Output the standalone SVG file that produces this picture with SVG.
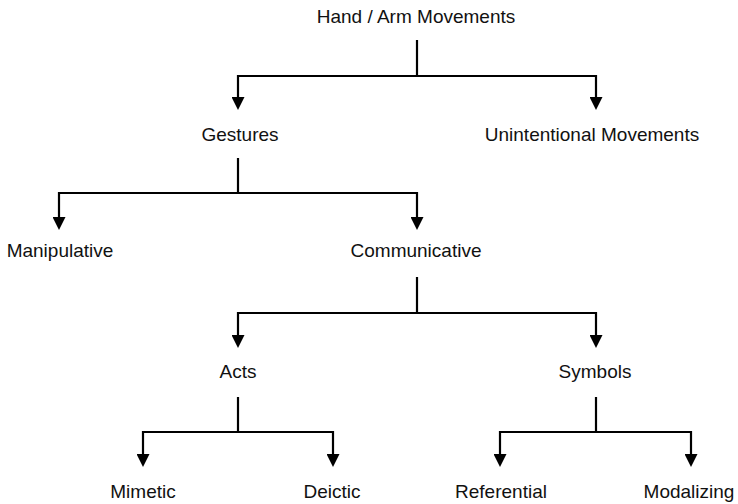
<svg xmlns="http://www.w3.org/2000/svg" width="738" height="504" viewBox="0 0 738 504">
  <style>
    .lbl { font-family: "Liberation Sans", Arial, Helvetica, sans-serif; font-size: 19px; fill: #111; text-anchor: middle; }
    .wire { fill: none; stroke: #000; stroke-width: 2.2; stroke-linejoin: miter; }
  </style>
  <defs>
    <marker id="arrow" markerUnits="userSpaceOnUse" markerWidth="14" markerHeight="13" refX="0" refY="6.5" orient="auto">
      <path d="M0,0 L13,6.5 L0,13 z" fill="#000"/>
    </marker>
  </defs>
  <rect width="738" height="504" fill="#fff"/>

  <g id="connectors">
    <!-- Hand / Arm Movements -> Gestures, Unintentional Movements -->
    <path class="wire" d="M417,40 V76"/>
    <path class="wire" d="M417,76 H238 V97" marker-end="url(#arrow)"/>
    <path class="wire" d="M417,76 H596 V97" marker-end="url(#arrow)"/>
    <!-- Gestures -> Manipulative, Communicative -->
    <path class="wire" d="M238,158 V193"/>
    <path class="wire" d="M238,193 H59 V217" marker-end="url(#arrow)"/>
    <path class="wire" d="M238,193 H417 V217" marker-end="url(#arrow)"/>
    <!-- Communicative -> Acts, Symbols -->
    <path class="wire" d="M417,277 V313"/>
    <path class="wire" d="M417,313 H238 V335" marker-end="url(#arrow)"/>
    <path class="wire" d="M417,313 H596 V335" marker-end="url(#arrow)"/>
    <!-- Acts -> Mimetic, Deictic -->
    <path class="wire" d="M238,397 V432"/>
    <path class="wire" d="M238,432 H143 V454" marker-end="url(#arrow)"/>
    <path class="wire" d="M238,432 H333 V454" marker-end="url(#arrow)"/>
    <!-- Symbols -> Referential, Modalizing -->
    <path class="wire" d="M596,397 V432"/>
    <path class="wire" d="M596,432 H500 V454" marker-end="url(#arrow)"/>
    <path class="wire" d="M596,432 H691 V454" marker-end="url(#arrow)"/>
  </g>

  <g id="hand-arm-movements"><text class="lbl" x="416" y="23">Hand / Arm Movements</text></g>
  <g id="gestures"><text class="lbl" x="240" y="141">Gestures</text></g>
  <g id="unintentional-movements"><text class="lbl" x="592" y="141">Unintentional Movements</text></g>
  <g id="manipulative"><text class="lbl" x="60" y="257">Manipulative</text></g>
  <g id="communicative"><text class="lbl" x="416" y="257">Communicative</text></g>
  <g id="acts"><text class="lbl" x="238" y="378">Acts</text></g>
  <g id="symbols"><text class="lbl" x="595" y="378">Symbols</text></g>
  <g id="mimetic"><text class="lbl" x="143" y="498">Mimetic</text></g>
  <g id="deictic"><text class="lbl" x="332" y="498">Deictic</text></g>
  <g id="referential"><text class="lbl" x="501" y="498">Referential</text></g>
  <g id="modalizing"><text class="lbl" x="689" y="498">Modalizing</text></g>
</svg>
